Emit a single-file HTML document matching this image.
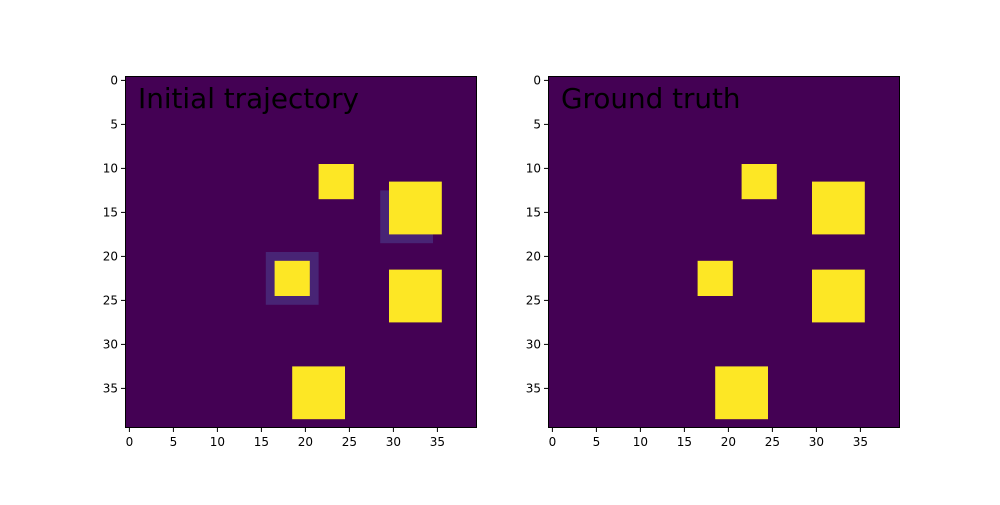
<!DOCTYPE html>
<html><head><meta charset="utf-8"><style>
body{margin:0;background:#fff;}
text{font-family:"DejaVu Sans","Liberation Sans",sans-serif;}
</style></head><body>
<svg id="fig" width="1000" height="500" xmlns="http://www.w3.org/2000/svg"></svg>
<script>
const gridSize = 40;
const ticks = [0,5,10,15,20,25,30,35];
const panelTitles = ["Initial trajectory","Ground truth"];
// rectangles: [col0, row0, cols, rows, value]
const leftRects = [[29,13,6,6,0.1],[16,20,6,6,0.1],[22,10,4,4,1],[30,12,6,6,1],[17,21,4,4,1],[30,22,6,6,1],[19,33,6,6,1]];
const rightRects = [[22,10,4,4,1],[30,12,6,6,1],[17,21,4,4,1],[30,22,6,6,1],[19,33,6,6,1]];
const panels = [{left:125,rects:leftRects},{left:548,rects:rightRects}];
const axTop=76, size=352, cell=size/gridSize;
const svg=document.getElementById('fig');
const NS='http://www.w3.org/2000/svg';
function mk(t,a,p){const e=document.createElementNS(NS,t);for(const k in a)e.setAttribute(k,a[k]);(p||svg).appendChild(e);return e;}
function color(v){return v>=1?'#fde725':(v>0?'#482475':'#440154');}
panels.forEach((p,i)=>{
  const g=mk('g',{});
  
  
  const sx=c=>p.left+c*cell, sy=r=>axTop+r*cell;
  const bg=mk('rect',{x:p.left,y:axTop,width:size,height:size,fill:'#440154'},g);
  
  
  p.rects.forEach(r=>{
    const e=mk('rect',{x:sx(r[0]),y:sy(r[1]),width:r[2]*cell,height:r[3]*cell,fill:color(r[4])},g);
    
    
  });
  const fr=mk('rect',{x:p.left+0.5,y:axTop+0.5,width:size-1,height:size-1,fill:'none',stroke:'#000','stroke-width':1},g);
  
  
  ticks.forEach(t=>{
    const cx=sx(t+0.5), cy=sy(t+0.5);
    mk('line',{x1:cx,x2:cx,y1:axTop+size,y2:axTop+size+4,stroke:'#000'},g);
    const xl=mk('text',{x:cx,y:axTop+size+18,'font-size':12,'text-anchor':'middle'},g);
    xl.textContent=t;
    
    
    mk('line',{x1:p.left-4,x2:p.left,y1:cy,y2:cy,stroke:'#000'},g);
    const yl=mk('text',{x:p.left-7,y:cy+4,'font-size':12,'text-anchor':'end'},g);
    yl.textContent=t;
    
    
  });
  const tt=mk('text',{x:p.left+13,y:axTop+32,'font-size':27.8,fill:'#000'},g);
  tt.textContent=panelTitles[i];
  
  
});
</script>
</body></html>
